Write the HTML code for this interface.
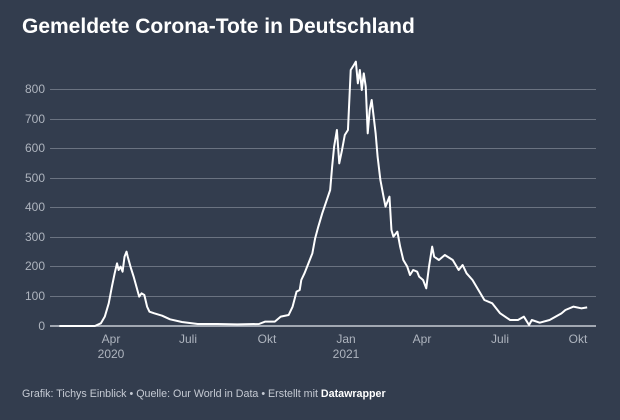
<!DOCTYPE html>
<html><head><meta charset="utf-8"><style>
html,body{margin:0;padding:0;background:#333d4e;}
body{width:620px;height:420px;overflow:hidden;position:relative;font-family:"Liberation Sans",sans-serif;}
.t{position:absolute;left:22px;top:15px;color:#fff;font-weight:bold;font-size:21px;}
.f{position:absolute;left:22px;top:388px;color:#c5cad3;font-size:10.7px}
.f b{color:#fff}
</style></head><body>
<div class="t">Gemeldete Corona-Tote in Deutschland</div>
<svg width="620" height="420" style="position:absolute;left:0;top:0">
<g stroke="#6b7381" stroke-width="1">
<line x1="50" x2="596" y1="89.5" y2="89.5"/><line x1="50" x2="596" y1="119.5" y2="119.5"/>
<line x1="50" x2="596" y1="148.5" y2="148.5"/><line x1="50" x2="596" y1="178.5" y2="178.5"/>
<line x1="50" x2="596" y1="207.5" y2="207.5"/><line x1="50" x2="596" y1="237.5" y2="237.5"/>
<line x1="50" x2="596" y1="266.5" y2="266.5"/><line x1="50" x2="596" y1="296.5" y2="296.5"/>
</g>
<line x1="50" x2="596" y1="326" y2="326" stroke="#c8ccd3" stroke-width="1.5"/>
<g fill="#aeb4be" font-size="12" text-anchor="end">
<text x="45" y="93">800</text><text x="45" y="123">700</text><text x="45" y="152">600</text>
<text x="45" y="182">500</text><text x="45" y="211">400</text><text x="45" y="241">300</text>
<text x="45" y="270">200</text><text x="45" y="300">100</text><text x="45" y="330">0</text>
</g>
<g fill="#aeb4be" font-size="12" text-anchor="middle">
<text x="111" y="343">Apr</text><text x="111" y="358">2020</text>
<text x="188" y="343">Juli</text><text x="267" y="343">Okt</text>
<text x="346" y="343">Jan</text><text x="346" y="358">2021</text>
<text x="422" y="343">Apr</text><text x="500" y="343">Juli</text><text x="578" y="343">Okt</text>
</g>
<g transform="translate(0,50) scale(0.3954,0.33333)">
<polyline fill="none" stroke="#fff" stroke-width="2" vector-effect="non-scaling-stroke" stroke-linejoin="round" points="150,828 240,828 255,820 265,800 275,760 283,710 290,670 296,640 300,660 305,650 310,665 315,620 320,605 323,620 330,650 338,680 345,710 352,740 358,730 365,735 372,770 378,785 390,790 410,797 430,808 460,816 500,822 550,822 600,823 655,822 670,815 695,815 710,800 730,795 740,770 750,725 758,720 762,690 770,670 780,640 790,610 797,565 805,530 815,490 825,455 835,420 840,350 845,290 852,240 858,340 865,300 872,255 880,240 887,60 895,45 900,35 905,100 910,60 915,120 920,70 925,110 930,250 935,180 940,150 945,200 950,250 955,320 962,390 970,440 975,470 985,440 990,540 995,560 1005,545 1012,590 1020,630 1030,650 1037,675 1045,660 1055,665 1060,680 1070,690 1078,715 1085,650 1093,590 1098,620 1110,630 1125,615 1145,630 1160,660 1170,645 1180,670 1195,690 1210,720 1225,750 1245,760 1265,790 1290,810 1310,810 1325,800 1338,825 1345,810 1365,818 1390,810 1420,790 1430,780 1450,770 1470,775 1485,772"/>
</g>
</svg>
<div class="f">Grafik: Tichys Einblick • Quelle: Our World in Data • Erstellt mit <b>Datawrapper</b></div>
</body></html>
